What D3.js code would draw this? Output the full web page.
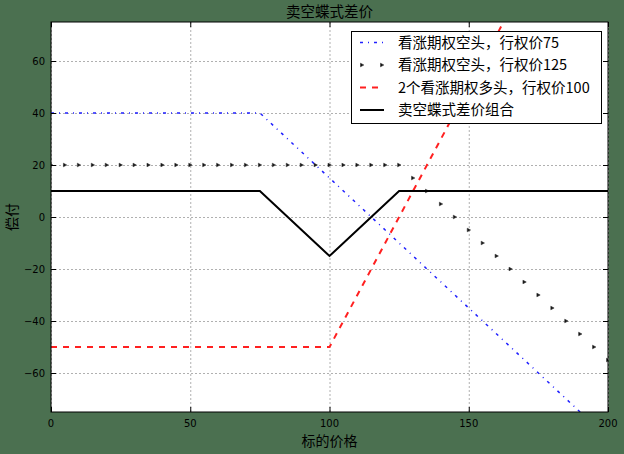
<!DOCTYPE html>
<html><head><meta charset="utf-8">
<script src="https://cdn.jsdelivr.net/npm/d3@7/dist/d3.min.js"></script>
<style>html,body{margin:0;padding:0;background:#4b7050;}svg{display:block;}</style>
</head><body>
<svg id="c" width="624" height="454"></svg>
<script>
const prices = [0,5,10,15,20,25,30,35,40,45,50,55,60,65,70,75,80,85,90,95,100,105,110,115,120,125,130,135,140,145,150,155,160,165,170,175,180,185,190,195,200];
const shortCall75 = [40,40,40,40,40,40,40,40,40,40,40,40,40,40,40,40,35,30,25,20,15,10,5,0,-5,-10,-15,-20,-25,-30,-35,-40,-45,-50,-55,-60,-65,-70,-75,-80,-85];
const shortCall125 = [20,20,20,20,20,20,20,20,20,20,20,20,20,20,20,20,20,20,20,20,20,20,20,20,20,20,15,10,5,0,-5,-10,-15,-20,-25,-30,-35,-40,-45,-50,-55];
const longCalls100 = [-50,-50,-50,-50,-50,-50,-50,-50,-50,-50,-50,-50,-50,-50,-50,-50,-50,-50,-50,-50,-50,-40,-30,-20,-10,0,10,20,30,40,50,60,70,80,90,100,110,120,130,140,150];
const butterfly = [10,10,10,10,10,10,10,10,10,10,10,10,10,10,10,10,5,0,-5,-10,-15,-10,-5,0,5,10,10,10,10,10,10,10,10,10,10,10,10,10,10,10,10];
const xTicks = [0,50,100,150,200];
const yTicks = [-60,-40,-20,0,20,40,60];
const seriesNames = ["看涨期权空头，行权价75","看涨期权空头，行权价125","2个看涨期权多头，行权价100","卖空蝶式差价组合"];
const titleText = "卖空蝶式差价";
const xLabel = "标的价格";
const yLabel = "偿付";

const L=51, R=608, T=22, B=412;
const svg = d3.select("#c");
const x = d3.scaleLinear().domain([0,200]).range([L,R]);
const y = d3.scaleLinear().domain([-75,75]).range([B,T]);
const tickFont = "DejaVu Sans, sans-serif";
const cjk = "'Noto Sans CJK SC', sans-serif";

svg.append("rect").attr("x",L).attr("y",T).attr("width",R-L).attr("height",B-T).attr("fill","#fff");
svg.append("defs").append("clipPath").attr("id","clip").append("rect").attr("x",L).attr("y",T).attr("width",R-L).attr("height",B-T);

// grid
const g = svg.append("g");
xTicks.forEach(v=>{ g.append("line").attr("x1",x(v)+0.5).attr("x2",x(v)+0.5).attr("y1",T).attr("y2",B).attr("stroke","#b0b0b0").attr("stroke-width",1).attr("stroke-dasharray","2,2"); });
yTicks.forEach(v=>{ g.append("line").attr("y1",Math.round(y(v))+0.5).attr("y2",Math.round(y(v))+0.5).attr("x1",L).attr("x2",R).attr("stroke","#b0b0b0").attr("stroke-width",1).attr("stroke-dasharray","2,2"); });

const plot = svg.append("g").attr("clip-path","url(#clip)");
const line = (vals)=>d3.line().x((d,i)=>x(prices[i])).y(d=>y(d))(vals);

plot.append("path").attr("d",line(longCalls100)).attr("fill","none").attr("stroke","#ff2020").attr("stroke-width",2).attr("stroke-dasharray","6,6");
plot.append("path").attr("d",line(shortCall75)).attr("fill","none").attr("stroke","#2020ff").attr("stroke-width",1.5).attr("stroke-dasharray","3,5,1,5");
const tri = "M-1.5,-1.8L1.8,0L-1.5,1.8Z";
plot.selectAll(".m").data(shortCall125).enter().append("path").attr("d",tri)
  .attr("transform",(d,i)=>`translate(${x(prices[i])},${y(d)})`).attr("fill","#111").attr("stroke","#333").attr("stroke-width",0.6);
plot.append("path").attr("d",line(butterfly)).attr("fill","none").attr("stroke","#000").attr("stroke-width",2);

// frame
svg.append("rect").attr("x",L).attr("y",T).attr("width",R-L).attr("height",B-T).attr("fill","none").attr("stroke","#000").attr("stroke-width",1);

// axes ticks inside
const ax = svg.append("g");
xTicks.forEach(v=>{
  ax.append("line").attr("x1",x(v)+0.5).attr("x2",x(v)+0.5).attr("y1",B).attr("y2",B-5).attr("stroke","#000");
  ax.append("line").attr("x1",x(v)+0.5).attr("x2",x(v)+0.5).attr("y1",T).attr("y2",T+5).attr("stroke","#000");
  ax.append("text").attr("x",x(v)).attr("y",B+14.5).attr("text-anchor","middle").attr("font-family",tickFont).attr("font-size",10).text(d3.format("d")(v));
});
yTicks.forEach(v=>{
  const yy=Math.round(y(v))+0.5;
  ax.append("line").attr("x1",L).attr("x2",L+5).attr("y1",yy).attr("y2",yy).attr("stroke","#000");
  ax.append("line").attr("x1",R).attr("x2",R-5).attr("y1",yy).attr("y2",yy).attr("stroke","#000");
  ax.append("text").attr("x",L-6).attr("y",yy+3.5).attr("text-anchor","end").attr("font-family",tickFont).attr("font-size",10).text(String(v).replace("-","\u2212"));
});

svg.append("text").attr("x",(L+R)/2).attr("y",17).attr("text-anchor","middle").attr("font-family",cjk).attr("font-size",14.5).text(titleText);
svg.append("text").attr("x",(L+R)/2).attr("y",446).attr("text-anchor","middle").attr("font-family",cjk).attr("font-size",14).text(xLabel);
svg.append("text").attr("transform",`translate(17,${(T+B)/2}) rotate(-90)`).attr("text-anchor","middle").attr("font-family",cjk).attr("font-size",14).text(yLabel);

// legend
const lg = svg.append("g");
lg.append("rect").attr("x",351.5).attr("y",31.5).attr("width",250).attr("height",92).attr("fill","#fff").attr("stroke","#000").attr("stroke-width",1);
const rows=[42.5,65,87.5,110];
const hx0=360, hx1=384;
lg.append("line").attr("x1",hx0).attr("x2",hx1).attr("y1",rows[0]).attr("y2",rows[0]).attr("stroke","#2020ff").attr("stroke-width",1.5).attr("stroke-dasharray","3,5,1,5");
[hx0+2,hx1-2].forEach(px=>lg.append("path").attr("d",tri).attr("transform",`translate(${px},${rows[1]})`).attr("fill","#111").attr("stroke","#333").attr("stroke-width",0.6));
lg.append("line").attr("x1",hx0).attr("x2",hx1).attr("y1",rows[2]).attr("y2",rows[2]).attr("stroke","#ff2020").attr("stroke-width",2).attr("stroke-dasharray","6,6");
lg.append("line").attr("x1",hx0).attr("x2",hx1).attr("y1",rows[3]).attr("y2",rows[3]).attr("stroke","#000").attr("stroke-width",2);
seriesNames.forEach((s,i)=>lg.append("text").attr("x",398).attr("y",rows[i]+5).attr("font-family",cjk).attr("font-size",14.5).text(s));
</script>
</body></html>
